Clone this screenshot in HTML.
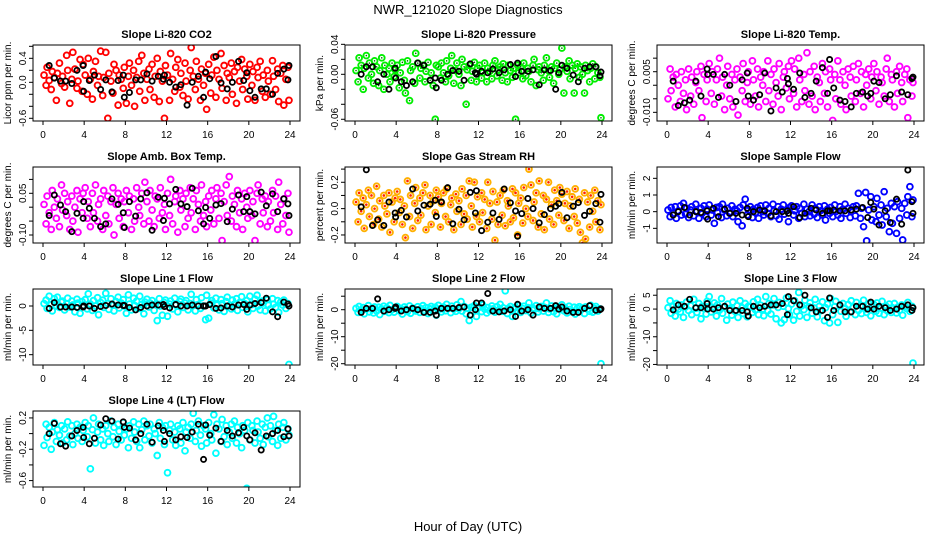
<!DOCTYPE html>
<html><head><meta charset="utf-8"><title>NWR_121020 Slope Diagnostics</title>
<style>html,body{margin:0;padding:0;background:#fff}svg{display:block;font-family:"Liberation Sans",sans-serif}</style>
</head><body>
<svg id="chart" width="936" height="540" viewBox="0 0 936 540">
<rect x="0" y="0" width="936" height="540" fill="#fff"/>
<text x="468" y="14" text-anchor="middle" font-size="13">NWR_121020  Slope Diagnostics</text>
<text x="468" y="531" text-anchor="middle" font-size="13">Hour of Day (UTC)</text>
</svg>
<script>
const hours = [0.1,0.3,0.4,0.6,0.8,0.9,1.1,1.3,1.4,1.6,1.8,1.9,2.1,2.3,2.4,2.6,2.8,2.9,3.1,3.3,3.4,3.6,3.8,3.9,4.1,4.3,4.4,4.6,4.8,4.9,5.1,5.3,5.4,5.6,5.8,5.9,6.1,6.3,6.4,6.6,6.8,6.9,7.1,7.3,7.4,7.6,7.8,7.9,8.1,8.3,8.4,8.6,8.8,8.9,9.1,9.3,9.4,9.6,9.8,9.9,10.1,10.3,10.4,10.6,10.8,10.9,11.1,11.3,11.4,11.6,11.8,11.9,12.1,12.3,12.4,12.6,12.8,12.9,13.1,13.3,13.4,13.6,13.8,13.9,14.1,14.3,14.4,14.6,14.8,14.9,15.1,15.3,15.4,15.6,15.8,15.9,16.1,16.3,16.4,16.6,16.8,16.9,17.1,17.3,17.4,17.6,17.8,17.9,18.1,18.3,18.4,18.6,18.8,18.9,19.1,19.3,19.4,19.6,19.8,19.9,20.1,20.3,20.4,20.6,20.8,20.9,21.1,21.3,21.4,21.6,21.8,21.9,22.1,22.3,22.4,22.6,22.8,22.9,23.1,23.3,23.4,23.6,23.8,23.9];
const blackHours = [0.6,1.1,1.7,2.2,2.8,3.3,3.9,3.95,4.5,5.0,5.6,6.1,6.7,7.3,7.8,7.9,8.4,9.0,9.5,10.1,10.6,11.2,11.7,11.8,12.3,12.9,13.4,14.0,14.5,15.1,15.6,15.8,16.2,16.8,17.3,17.9,18.4,19.0,19.5,19.8,20.1,20.6,21.2,21.7,22.3,22.8,23.4,23.8,23.9];
const xTicks = [0,4,8,12,16,20,24];

const co2Vals = [0.12,-0.05,0.25,0.03,-0.12,0.18,0.08,-0.3,0.15,0.32,-0.02,0.1,
-0.08,0.45,0.2,-0.35,0.05,0.5,0.22,-0.1,0.02,0.38,-0.15,0.3,
0.12,-0.2,0.4,0.05,-0.28,0.18,0.35,-0.05,0.1,0.52,-0.22,0.08,
0.5,-0.6,0.15,0.02,-0.18,0.3,0.2,-0.38,0.12,0.05,-0.1,0.25,
-0.35,0.1,0.32,-0.05,0.2,-0.4,0.08,0.35,-0.15,0.45,0.15,-0.3,
0.05,0.22,-0.12,0.3,-0.25,0.1,0.4,-0.32,0.18,0.02,-0.6,0.28,
0.12,-0.3,0.48,0.05,-0.15,0.25,0.38,-0.08,0.15,-0.22,0.32,0.02,
-0.28,0.2,0.58,0.1,-0.12,0.35,0.05,-0.3,0.22,-0.05,0.15,-0.45,
0.3,-0.18,0.12,0.42,-0.25,0.2,0.05,0.48,-0.1,0.28,-0.3,0.15,
0.08,0.32,-0.2,0.18,-0.35,0.25,0.02,0.38,-0.12,0.22,0.1,-0.28,
0.3,-0.05,0.18,-0.3,0.25,0.08,0.35,-0.15,0.12,-0.25,0.2,0.02,
-0.2,0.36,0.1,-0.12,0.22,-0.32,0.15,0.28,-0.38,0.05,0.25,-0.3];
const co2Black = [0.28,0.07,0.02,0.02,-0.02,0.2,0.28,-0.15,0.03,0.12,-0.12,0.04,-0.16,0.03,0.12,-0.25,-0.17,0.04,0.04,0.14,0.02,0.1,0.05,0.12,0.0,-0.08,-0.04,-0.38,0.0,0.1,-0.25,0.17,0.06,0.43,-0.01,-0.11,0.0,0.35,0.03,0.16,-0.14,-0.25,-0.11,-0.11,-0.2,0.15,0.22,0.04,0.28];

const presVals = [0.005,-0.01,0.022,0.012,-0.02,0.008,0.025,-0.005,0.015,0.0,-0.012,0.018,
0.01,-0.015,0.005,0.022,-0.02,0.012,0.0,0.008,-0.01,0.015,-0.003,0.006,
0.012,-0.018,0.002,0.016,-0.008,-0.025,0.018,-0.035,0.005,0.01,-0.012,0.028,
0.015,-0.005,0.008,0.012,-0.01,0.004,0.016,-0.008,0.002,-0.015,-0.06,0.012,
0.01,-0.005,0.015,0.002,-0.01,0.018,-0.002,0.008,0.025,-0.012,0.005,0.015,
0.0,-0.015,0.02,0.01,-0.04,0.006,0.012,-0.008,0.004,0.016,-0.01,0.008,
0.012,-0.005,0.002,0.015,-0.01,0.008,0.004,-0.006,0.012,0.018,-0.002,0.006,
0.01,-0.008,0.014,0.002,-0.01,0.012,0.005,-0.004,0.008,-0.06,0.012,0.002,
0.01,-0.006,0.015,-0.002,0.008,0.004,-0.01,0.012,0.02,-0.015,0.006,0.01,
0.002,-0.008,0.012,0.022,0.005,-0.004,0.01,-0.012,0.008,0.015,0.0,0.006,
0.035,-0.025,0.01,0.004,0.018,-0.006,0.012,-0.025,0.008,0.014,-0.004,0.01,
0.0,-0.025,0.012,0.005,-0.01,0.008,0.014,-0.006,0.01,0.002,-0.004,-0.058];
const presBlack = [0.0,0.01,0.01,-0.01,0.0,-0.02,0.008,-0.005,-0.01,-0.015,-0.01,0.015,0.012,-0.008,-0.005,-0.018,-0.008,0.0,0.005,0.004,-0.008,0.014,0.002,0.0,0.004,0.002,0.007,0.002,0.006,0.013,-0.003,0.015,0.004,0.004,0.006,-0.014,0.006,0.005,-0.02,0.002,0.012,0.008,-0.001,-0.01,0.008,0.01,0.01,-0.002,0.003];

const tempVals = [-0.005,0.006,-0.002,0.003,-0.008,0.004,0.0,-0.006,0.005,-0.003,0.002,-0.009,
0.006,-0.004,0.003,-0.007,0.001,0.005,-0.002,0.007,-0.012,0.004,-0.006,0.002,
0.008,-0.003,0.005,-0.007,0.002,0.006,0.01,-0.004,0.003,-0.009,0.0,0.007,
-0.005,0.004,-0.008,0.002,0.006,-0.011,0.003,-0.002,0.008,-0.006,0.001,0.005,
-0.007,0.009,0.002,-0.004,0.006,-0.008,0.003,0.0,0.005,-0.006,0.009,-0.002,
0.004,-0.007,0.006,0.001,-0.004,0.008,-0.009,0.003,0.005,-0.001,0.007,-0.005,
0.009,-0.003,0.006,-0.008,0.01,0.002,-0.006,0.004,-0.002,0.012,-0.007,0.005,
-0.004,0.007,-0.009,0.003,0.001,-0.006,0.008,-0.003,0.005,-0.008,0.006,0.002,
-0.013,0.004,-0.005,0.009,0.002,-0.007,0.005,0.0,-0.009,0.006,0.003,-0.004,
0.007,-0.006,0.002,0.008,-0.003,0.005,-0.008,0.004,0.0,0.006,-0.005,0.003,
0.008,-0.002,0.005,-0.007,0.003,0.001,-0.004,0.006,0.01,-0.006,0.004,0.002,
-0.008,0.005,-0.003,0.007,0.001,-0.006,0.004,0.006,-0.012,0.002,-0.004,0.001];
const tempBlack = [0.0015,-0.0075,-0.0065,-0.0055,0.0015,-0.004,0.006,0.004,0.004,-0.0045,0.004,0.0,-0.006,0.002,0.0045,-0.004,-0.0055,-0.0035,0.0045,-0.0095,-0.001,-0.0025,0.0025,0.0005,-0.0015,0.0045,-0.0045,-0.003,0.0015,0.0065,-0.003,0.0095,-0.001,-0.0055,-0.006,-0.008,-0.003,-0.0025,-0.004,-0.003,0.0015,0.001,-0.005,-0.0035,0.0035,-0.0025,-0.0035,0.0025,0.003];

const ambVals = [0.01,-0.06,0.04,-0.02,-0.08,0.06,0.0,-0.04,0.03,-0.07,0.08,-0.01,
0.05,-0.03,0.02,-0.08,0.04,-0.05,0.0,0.06,-0.09,0.03,-0.02,0.05,
0.07,-0.04,0.02,-0.07,0.05,-0.02,0.08,-0.05,0.01,0.03,-0.08,0.06,
-0.03,0.04,-0.06,0.02,0.07,-0.1,0.01,0.05,-0.04,0.03,-0.07,0.02,
0.06,-0.02,0.04,-0.08,0.03,-0.05,0.07,0.0,-0.03,0.05,-0.06,0.09,
0.02,-0.05,0.06,-0.01,-0.07,0.04,0.03,-0.04,0.07,-0.02,0.01,-0.08,
0.05,-0.03,0.1,-0.06,0.02,0.04,-0.09,0.06,-0.01,0.03,-0.07,0.05,
-0.04,0.07,-0.02,0.03,-0.08,0.06,0.01,-0.05,0.08,-0.03,0.02,-0.07,
0.04,-0.01,0.06,-0.06,0.03,0.07,-0.04,0.05,-0.12,0.02,0.08,-0.03,
0.11,-0.05,0.04,0.01,-0.07,0.06,-0.02,0.03,-0.08,0.05,0.0,-0.04,
0.06,-0.03,0.02,-0.12,0.05,0.08,-0.06,0.03,-0.02,0.04,-0.07,0.02,
-0.05,0.06,-0.02,0.04,-0.08,0.09,0.01,-0.06,0.03,-0.03,0.05,-0.09];
const ambBlack = [-0.03,0.044,0.008,-0.016,-0.088,-0.022,-0.04,0.02,-0.004,-0.04,-0.07,-0.06,0.03,0.01,-0.02,-0.073,0.02,-0.032,0.03,0.052,-0.083,0.036,-0.048,0.032,0.012,0.064,0.012,0.002,0.068,-0.013,-0.06,-0.001,-0.04,0.008,0.013,-0.052,-0.007,0.044,-0.016,0.038,-0.016,-0.024,0.054,0.005,0.048,-0.016,0.03,0.012,-0.03];

const rhVals = [0.05,-0.1,0.12,-0.02,0.08,-0.15,0.03,0.14,-0.06,0.1,-0.12,0.0,
0.17,-0.08,0.06,-0.14,0.1,0.02,-0.04,0.12,-0.18,0.05,-0.1,0.08,
0.13,-0.03,0.07,-0.12,0.02,-0.22,0.21,-0.06,0.1,-0.15,0.04,0.16,
-0.09,0.08,-0.05,0.12,0.18,-0.16,0.02,0.1,-0.12,0.06,-0.03,0.14,
0.09,-0.14,0.04,0.12,-0.06,0.15,-0.1,0.03,0.08,-0.16,0.11,-0.02,
0.06,-0.12,0.15,-0.04,0.1,-0.08,0.21,0.02,-0.14,0.2,-0.06,0.09,
-0.1,0.12,-0.03,0.07,-0.15,0.2,0.04,-0.08,0.13,-0.24,0.05,-0.12,
0.1,-0.05,0.14,-0.13,0.06,0.02,-0.1,0.15,-0.07,0.12,-0.2,0.04,
0.08,-0.11,0.16,0.0,-0.06,0.3,0.18,-0.09,0.05,0.12,-0.14,0.21,
-0.04,0.1,-0.16,0.07,0.2,-0.08,0.03,-0.12,0.14,0.06,-0.05,0.16,
0.11,-0.09,0.04,0.13,-0.15,0.02,0.09,-0.06,0.15,-0.11,0.07,-0.18,
-0.26,0.12,-0.23,0.05,-0.14,0.1,-0.02,0.14,-0.1,0.06,-0.16,0.03];
const rhBlack = [0.013,0.295,-0.128,-0.085,-0.128,0.05,-0.033,-0.064,-0.013,-0.064,0.149,-0.018,0.026,0.033,0.064,-0.059,0.05,0.159,-0.115,-0.005,-0.085,0.123,-0.033,0.136,-0.167,-0.103,-0.033,-0.082,0.149,0.044,-0.018,-0.21,-0.038,0.077,0.0,-0.108,-0.046,0.0,0.018,0.038,0.123,-0.069,0.018,0.046,-0.051,-0.02,0.038,-0.103,0.108];

const sampleVals = [0.1,-0.3,0.25,-0.1,0.3,-0.4,0.05,0.35,-0.2,0.5,-0.15,0.2,
-0.35,0.1,0.3,-0.25,0.45,0.0,-0.4,0.2,-0.1,0.35,-0.3,0.15,
0.4,-0.2,0.1,-0.7,0.25,-0.05,0.3,-0.35,0.45,0.1,-0.25,0.2,
-0.1,0.35,-0.3,0.15,0.05,-0.6,0.25,-0.85,0.4,0.75,-0.2,0.1,
0.3,-0.35,0.15,-0.05,0.25,-0.4,0.35,0.0,-0.2,0.4,-0.1,0.2,
-0.3,0.45,0.05,-0.25,0.3,-0.45,0.15,0.4,-0.15,0.1,-0.6,0.25,
0.35,-0.2,0.05,0.3,-0.4,0.2,-0.1,0.45,-0.3,0.15,0.0,-0.25,
0.4,-0.15,0.2,-0.35,0.3,0.05,-0.2,0.35,-0.5,0.15,-0.1,0.25,
-0.3,0.4,0.0,-0.2,0.3,-0.4,0.15,0.45,-0.1,0.2,-0.35,0.1,
0.3,-0.25,0.35,1.1,-0.4,0.2,-0.9,1.15,-1.75,0.1,0.9,-0.5,
0.3,-0.6,0.8,-0.2,0.4,-0.8,1.2,-0.3,0.2,-1.2,0.5,-0.7,
0.3,-1.3,0.6,-0.4,0.2,-1.7,0.5,-0.2,0.9,1.5,-0.3,0.7];
const sampleBlack = [-0.2,0.0,0.25,-0.2,0.0,-0.05,0.05,-0.45,0.2,-0.3,0.15,-0.1,-0.1,-0.2,0.2,-0.3,0.0,0.1,0.05,-0.25,0.0,0.0,0.05,-0.1,0.3,-0.35,-0.1,0.2,0.1,-0.1,0.05,0.05,0.1,0.05,0.05,0.1,0.15,0.25,-0.35,0.55,0.15,-0.8,0.05,-0.65,0.75,-0.75,2.5,0.6,-0.1];

const line1Vals = [0.5,1.2,-0.5,2.0,0.3,-1.0,1.5,0.0,1.8,-0.3,0.8,1.0,
-0.8,0.5,1.6,-0.2,1.0,0.2,-1.2,1.4,0.6,-1.5,0.9,0.1,
1.3,-0.6,2.5,0.4,-0.9,1.1,0.0,1.7,-1.8,0.7,1.2,-0.3,
2.6,0.5,-0.7,1.5,0.2,-1.0,0.9,1.8,-0.4,0.6,1.3,0.0,
-1.5,2.3,0.4,-0.8,1.6,0.1,1.0,-0.5,2.0,0.3,-1.6,0.8,
1.4,-0.2,0.6,1.1,-0.9,0.3,-3.0,1.5,0.0,-1.9,0.7,1.2,
-2.1,0.4,1.0,-0.6,1.6,0.2,-1.2,0.9,1.4,-0.3,0.6,1.1,
-0.8,0.5,2.4,0.1,-1.0,1.3,0.3,-0.5,1.7,0.0,-2.8,2.2,
-2.5,0.6,1.1,-0.4,1.6,0.2,-0.8,1.3,0.5,-1.1,0.9,1.8,
0.1,-0.6,1.2,0.4,1.5,-0.9,0.7,1.9,-0.3,0.5,1.1,-1.2,
2.0,0.3,-0.5,1.4,2.2,0.0,-0.8,1.0,0.6,-1.0,1.3,0.2,
-0.6,1.5,0.4,-0.3,1.1,-1.3,0.8,0.2,1.2,-0.5,0.5,-12.0];
const line1Black = [-0.5,0.7,-0.2,-0.2,-0.2,-0.3,-0.2,0.0,0.0,-0.5,-0.1,0.1,0.4,0.2,0.1,0.1,-0.3,-0.8,-0.3,0.0,0.2,0.2,0.3,-0.1,-0.4,0.3,0.0,0.0,0.2,0.0,0.0,0.0,0.3,-0.5,-0.4,0.0,-0.2,0.2,0.3,-0.7,0.2,0.5,0.7,1.6,-1.2,-2.2,0.8,0.4,0.0];

const line2Vals = [0.5,-1.0,1.2,-0.3,0.8,-1.5,0.2,1.5,-0.8,0.4,-1.2,1.0,
-0.5,0.9,-1.8,0.3,1.3,-0.6,0.7,-1.1,1.6,0.0,-0.9,0.6,
1.2,-0.4,0.5,-1.6,1.0,0.2,-0.7,1.4,-1.3,0.6,0.1,-0.5,
1.1,-1.0,0.4,1.5,-0.6,0.8,-1.4,0.3,1.2,-0.2,0.9,-2.0,
1.6,0.3,-0.8,1.0,-0.4,2.0,0.5,-1.1,1.3,0.2,-0.6,1.8,
0.4,3.0,-0.5,1.2,-1.5,0.6,-4.0,0.9,-0.3,1.5,-2.5,0.5,
1.0,-0.7,1.8,0.2,-1.2,0.8,-0.4,1.4,0.3,-0.9,1.1,-0.2,
2.0,-0.6,0.7,7.0,-1.4,0.5,1.2,-2.5,0.3,0.9,-0.5,1.6,
-1.0,0.4,1.3,-0.3,0.8,2.5,-1.2,0.6,0.1,1.5,-0.8,0.4,
1.2,-0.5,0.9,2.5,-1.0,0.3,1.4,-0.7,0.6,-1.5,1.0,0.2,
1.8,-0.4,0.7,-1.2,1.3,0.1,-0.8,0.9,-1.6,0.5,1.1,-0.3,
0.6,-1.4,1.0,0.2,-0.6,1.6,-0.9,0.4,1.2,-0.5,0.3,-20.0];
const line2Black = [-1.0,0.5,0.5,4.0,-0.5,0.0,0.5,1.0,-0.5,0.0,0.5,0.0,-1.0,-1.0,-0.5,-2.0,0.5,0.5,0.5,0.8,1.0,-2.0,0.0,2.5,2.5,6.0,-0.5,-0.8,-0.5,0.0,-2.5,2.0,-0.5,0.0,-2.0,1.0,0.5,0.5,1.5,0.2,1.0,-0.5,-1.0,-1.0,0.5,1.5,-0.2,0.0,0.3];

const line3Vals = [0.5,3.0,-1.5,1.0,-2.5,2.0,0.0,-1.0,1.5,-3.0,0.8,2.5,
-0.5,1.2,-2.0,3.5,0.3,-1.2,2.0,-3.5,1.0,0.2,-1.8,2.8,
4.5,-1.0,0.6,2.2,-2.5,1.5,-0.4,3.8,-1.5,0.8,-4.0,1.8,
0.2,-2.2,2.5,-0.8,1.2,-3.0,3.0,0.5,-1.6,2.0,-2.8,1.0,
0.8,-1.2,2.6,-0.3,3.5,-2.0,1.4,0.0,-2.4,4.5,-0.6,2.0,
-1.8,1.5,3.8,-3.5,0.6,2.4,-5.0,1.0,-3.8,4.0,0.2,-2.0,
1.8,-4.0,3.0,-0.8,6.0,-2.5,1.2,-0.2,3.2,-3.0,0.8,2.2,
-1.5,0.4,3.5,-2.8,1.0,-0.6,2.6,-4.2,0.5,1.8,-5.0,3.8,
-2.0,0.9,2.8,-4.8,1.4,-0.8,2.0,0.2,-2.6,1.6,-1.0,3.0,
0.6,-2.0,2.4,-0.5,1.2,-1.6,3.2,0.0,-1.2,2.0,-2.4,0.8,
1.6,-0.8,2.2,-1.5,0.4,2.8,-2.0,1.0,-0.6,1.8,-1.2,0.5,
2.0,-1.4,0.6,-0.4,1.5,-2.2,1.0,0.2,2.4,-0.8,1.0,-19.5];
const line3Black = [-0.3,1.5,1.0,3.5,0.5,0.5,2.0,0.0,0.0,0.5,1.0,-0.5,-0.5,-0.5,-1.0,-2.5,1.0,0.5,1.0,1.5,1.5,2.0,-2.0,4.5,3.0,1.5,5.0,0.5,-1.0,-0.5,-3.0,4.0,-0.5,1.5,-1.0,-1.0,1.0,1.0,0.0,2.5,0.0,1.0,0.5,-0.5,0.0,1.0,1.5,-0.5,0.5];

const line4Vals = [-0.15,0.12,-0.05,0.08,-0.2,0.02,0.14,-0.1,0.05,-0.02,0.1,-0.12,
0.06,-0.08,0.15,-0.03,0.1,-0.14,0.0,0.12,-0.06,0.08,-0.1,0.04,
0.14,-0.04,0.1,-0.45,0.05,0.2,-0.12,0.02,0.12,-0.08,0.06,-0.15,
0.1,0.0,-0.1,0.16,-0.04,0.08,-0.14,0.12,0.03,-0.08,0.14,-0.02,
0.06,-0.18,0.1,-0.06,0.15,0.02,-0.1,0.12,-0.18,0.05,0.16,-0.08,
0.1,-0.03,0.12,-0.12,0.06,0.0,-0.28,0.14,-0.06,0.08,-0.14,0.1,
-0.5,0.04,0.12,-0.08,0.02,-0.15,0.1,0.06,-0.12,0.14,-0.22,0.02,
0.08,-0.06,0.12,0.26,-0.1,0.04,0.16,-0.02,-0.16,0.1,0.06,-0.12,
0.14,0.0,-0.08,0.24,-0.25,0.12,0.06,-0.1,0.18,-0.04,0.1,-0.14,
0.02,0.12,-0.06,0.16,-0.12,0.08,0.0,-0.18,0.1,0.04,-0.7,0.14,
-0.08,0.1,0.04,-0.12,0.16,0.02,-0.06,0.12,-0.14,0.08,0.2,-0.04,
0.1,-0.1,0.22,0.04,-0.15,0.12,-0.06,0.08,0.14,-0.08,0.06,-0.02];
const line4Black = [0.0,0.13,-0.13,-0.16,-0.03,0.04,0.08,-0.05,-0.13,-0.06,0.11,0.19,0.16,-0.07,0.15,0.08,0.07,-0.08,0.0,0.12,-0.11,0.1,0.04,-0.1,0.0,-0.08,-0.04,-0.05,0.02,0.12,-0.33,0.11,-0.02,0.07,-0.1,0.04,-0.03,0.01,0.08,-0.03,-0.08,0.01,-0.21,-0.03,0.0,0.04,-0.04,0.06,-0.03];

const co2Ticks = [-0.6,-0.4,-0.2,0,0.2,0.4,0.6], co2Labels = ["-0.6","","","0.0","","0.4",""];
const presTicks = [-0.06,-0.04,-0.02,0,0.02,0.04], presLabels = ["-0.06","","","0.00","","0.04"];
const tempTicks = [-0.01,-0.005,0,0.005,0.01], tempLabels = ["-0.010","","","0.005",""];
const ambTicks = [-0.1,-0.05,0,0.05,0.1], ambLabels = ["-0.10","","","0.05",""];
const rhTicks = [-0.3,-0.2,-0.1,0,0.1,0.2,0.3], rhLabels = ["","-0.2","","0.0","","0.2",""];
const sampleTicks = [-1,0,1,2], sampleLabels = ["-1","0","1","2"];
const line1Ticks = [-10,-5,0], line1Labels = ["-10","-5","0"];
const line2Ticks = [-20,-15,-10,-5,0,5], line2Labels = ["-20","","-10","","0",""];
const line3Ticks = [-20,-15,-10,-5,0,5], line3Labels = ["-20","","-10","","0","5"];
const line4Ticks = [-0.6,-0.4,-0.2,0,0.2], line4Labels = ["-0.6","","-0.2","","0.2"];

const panels = [
 {id:"co2",title:"Slope Li-820 CO2",ylab:"Licor ppm per min.",col:0,row:0,y0:-0.645,y1:0.622,vals:co2Vals,blk:co2Black,ticks:co2Ticks,labels:co2Labels,color:"#ff0000"},
 {id:"pressure",title:"Slope Li-820 Pressure",ylab:"kPa per min.",col:1,row:0,y0:-0.0623,y1:0.0391,vals:presVals,blk:presBlack,ticks:presTicks,labels:presLabels,color:"#00ee00",inner:"#006600"},
 {id:"temp",title:"Slope Li-820 Temp.",ylab:"degrees C per min.",col:2,row:0,y0:-0.0132,y1:0.01486,vals:tempVals,blk:tempBlack,ticks:tempTicks,labels:tempLabels,color:"#ff00ff"},
 {id:"amb-temp",title:"Slope Amb. Box Temp.",ylab:"degrees C per min.",col:0,row:1,y0:-0.1288,y1:0.1446,vals:ambVals,blk:ambBlack,ticks:ambTicks,labels:ambLabels,color:"#ff00ff"},
 {id:"gas-rh",title:"Slope Gas Stream RH",ylab:"percent per min.",col:1,row:1,y0:-0.261,y1:0.316,vals:rhVals,blk:rhBlack,ticks:rhTicks,labels:rhLabels,color:"#ffb000",inner:"#ff2000",innerR:1.3},
 {id:"sample-flow",title:"Slope Sample Flow",ylab:"ml/min per min.",col:2,row:1,y0:-1.88,y1:2.68,vals:sampleVals,blk:sampleBlack,ticks:sampleTicks,labels:sampleLabels,color:"#0000ff"},
 {id:"line1-flow",title:"Slope Line 1 Flow",ylab:"ml/min per min.",col:0,row:2,y0:-12.12,y1:3.49,vals:line1Vals,blk:line1Black,ticks:line1Ticks,labels:line1Labels,color:"#00ffff"},
 {id:"line2-flow",title:"Slope Line 2 Flow",ylab:"ml/min per min.",col:1,row:2,y0:-20.48,y1:7.67,vals:line2Vals,blk:line2Black,ticks:line2Ticks,labels:line2Labels,color:"#00ffff"},
 {id:"line3-flow",title:"Slope Line 3 Flow",ylab:"ml/min per min.",col:2,row:2,y0:-20.2,y1:7.25,vals:line3Vals,blk:line3Black,ticks:line3Ticks,labels:line3Labels,color:"#00ffff"},
 {id:"line4-flow",title:"Slope Line 4 (LT) Flow",ylab:"ml/min per min.",col:0,row:3,y0:-0.682,y1:0.2885,vals:line4Vals,blk:line4Black,ticks:line4Ticks,labels:line4Labels,color:"#00ffff"}
];

const NS = "http://www.w3.org/2000/svg";
const svg = document.getElementById("chart");
function mk(tag, attrs, parent){const e=document.createElementNS(NS,tag);for(const k in attrs)e.setAttribute(k,attrs[k]);parent.appendChild(e);return e;}

panels.forEach(p=>{
  const left=33+312*p.col, right=300+312*p.col, top=45+122*p.row, bottom=121+122*p.row;
  const x0=43+312*p.col, xs=247/24;
  const xScale=h=>x0+h*xs;
  const yScale=v=>bottom-(v-p.y0)/(p.y1-p.y0)*(bottom-top);
  const g=mk("g",{},svg);
  
  
  const t=mk("text",{x:(left+right)/2,y:top-7,"text-anchor":"middle","font-size":"11","font-weight":"bold"},g);
  t.textContent=p.title;
  
  
  const yl=mk("text",{x:0,y:0,transform:`translate(${left-22},${(top+bottom)/2}) rotate(-90)`,"text-anchor":"middle","font-size":"10"},g);
  yl.textContent=p.ylab;
  
  
  const cid="clip-"+p.id;
  const cp=mk("clipPath",{id:cid},g);
  mk("rect",{x:left,y:top,width:right-left,height:bottom-top},cp);
  const pts=mk("g",{"clip-path":`url(#${cid})`},g);
  
  
  const n=Math.min(hours.length,p.vals.length);
  for(let i=0;i<n;i++){
    const c=mk("circle",{cx:xScale(hours[i]),cy:yScale(p.vals[i]),r:2.9,fill:"none",stroke:p.color,"stroke-width":1.9},pts);
    
    
    if(p.inner){
      const d=mk("circle",{cx:xScale(hours[i]),cy:yScale(p.vals[i]),r:p.innerR||0.8,fill:p.inner},pts);
      
      
    }
  }
  const m=Math.min(blackHours.length,p.blk.length);
  for(let i=0;i<m;i++){
    const c=mk("circle",{cx:xScale(blackHours[i]),cy:yScale(p.blk[i]),r:2.6,fill:"none",stroke:"#000","stroke-width":1.8},pts);
    
    
  }
  const box=mk("rect",{x:left,y:top,width:right-left,height:bottom-top,fill:"none",stroke:"#000","stroke-width":1},g);
  
  
  const xa=mk("g",{},g);
  
  
  xTicks.forEach(h=>{
    const x=xScale(h);
    mk("line",{x1:x,y1:bottom,x2:x,y2:bottom+4,stroke:"#000"},xa);
    const tl=mk("text",{x:x,y:bottom+17,"text-anchor":"middle","font-size":"10"},xa);
    tl.textContent=h;
    
    
  });
  const ya=mk("g",{},g);
  
  
  p.ticks.forEach((v,i)=>{
    const y=yScale(v);
    if(y<top-1||y>bottom+1)return;
    mk("line",{x1:left-4,y1:y,x2:left,y2:y,stroke:"#000"},ya);
    if(p.labels[i]){
      const tl=mk("text",{x:0,y:0,transform:`translate(${left-7},${y}) rotate(-90)`,"text-anchor":"middle","font-size":"10"},ya);
      tl.textContent=p.labels[i];
      
      
    }
  });
});
</script>
</body></html>
